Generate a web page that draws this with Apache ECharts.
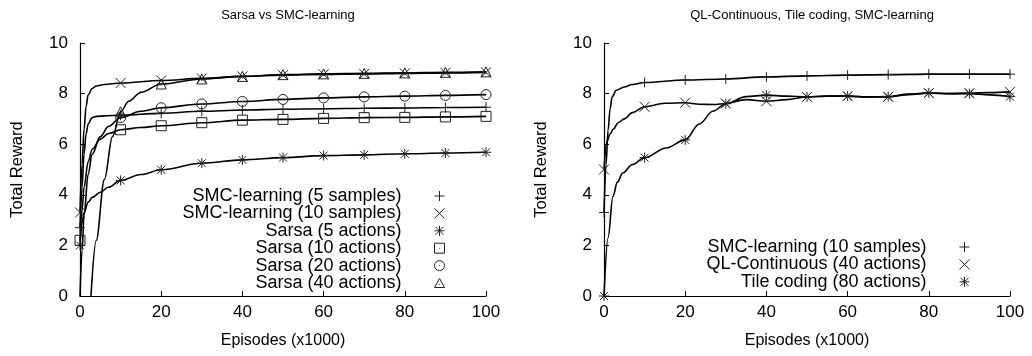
<!DOCTYPE html>
<html><head><meta charset="utf-8">
<script src="https://cdn.jsdelivr.net/npm/echarts@6/dist/echarts.min.js"></script>
<style>html,body{margin:0;padding:0;background:#fff}#c{width:1032px;height:356px}</style>
</head><body><div id="c"></div>
<script>
// ---- data ----
const xTicks = [0, 20, 40, 60, 80, 100];
const markerX = [0, 10, 20, 30, 40, 50, 60, 70, 80, 90, 100];

// left panel: Sarsa vs SMC-learning (smooth curve points [episode, reward])
const smc5Line = [[0,2.7],[0.5,4.3],[1,5.6],[1.5,6.4],[2,6.8],[3,7.05],[4,7.1],[6,7.12],[10,7.15],[20,7.22],[30,7.3],[40,7.35],[50,7.38],[60,7.4],[70,7.42],[80,7.43],[90,7.45],[100,7.46]];
const smc10Line = [[0,3.3],[0.5,5.2],[1,6.6],[1.5,7.5],[2,7.95],[3,8.2],[4,8.3],[6,8.36],[10,8.42],[20,8.52],[30,8.6],[40,8.68],[50,8.73],[60,8.76],[70,8.78],[80,8.8],[90,8.82],[100,8.84]];
const sarsa5Line = [[0,2.0],[0.5,2.9],[1,3.3],[2,3.7],[3,3.9],[5,4.1],[7,4.3],[10,4.57],[15,4.8],[20,4.99],[30,5.25],[40,5.38],[50,5.47],[60,5.55],[70,5.58],[80,5.62],[90,5.65],[100,5.68]];
const sarsa10Line = [[0,2.2],[0.5,3.4],[1,4.3],[2,5.3],[3,5.8],[5,6.2],[7,6.42],[10,6.57],[15,6.66],[20,6.73],[30,6.85],[40,6.95],[50,6.98],[60,7.02],[70,7.05],[80,7.06],[90,7.08],[100,7.1]];
const sarsa20Line = [[0,0],[0.5,1.8],[1,3.2],[2,4.8],[3,5.6],[5,6.3],[7,6.7],[10,7.05],[15,7.3],[20,7.44],[30,7.59],[40,7.69],[50,7.77],[60,7.83],[70,7.87],[80,7.9],[90,7.93],[100,7.96]];
const sarsa40Line = [[2.7,0],[4,2.2],[6,4.6],[8,6.3],[10,7.28],[12,7.7],[15,8.05],[20,8.38],[30,8.58],[40,8.68],[50,8.75],[60,8.78],[70,8.8],[80,8.82],[90,8.84],[100,8.86]];

// left panel markers (at markerX)
const smc5Pts = [2.7,7.15,7.22,7.31,7.35,7.38,7.4,7.42,7.43,7.45,7.46];
const smc10Pts = [3.3,8.42,8.52,8.6,8.68,8.73,8.76,8.78,8.8,8.82,8.84];
const sarsa5Pts = [2.0,4.57,4.99,5.25,5.38,5.47,5.55,5.58,5.62,5.65,5.68];
const sarsa10Pts = [2.2,6.57,6.73,6.85,6.95,6.98,7.02,7.05,7.06,7.08,7.1];
const sarsa20Pts = [null,7.05,7.44,7.59,7.69,7.77,7.83,7.87,7.9,7.93,7.96];
const sarsa40Pts = [null,7.28,8.38,8.58,8.68,8.75,8.78,8.8,8.82,8.84,8.86];

// right panel: QL-Continuous, Tile coding, SMC-learning
const smcRLine = [[0,3.3],[0.5,5.2],[1,6.55],[1.5,7.4],[2,7.87],[3,8.13],[5,8.26],[7,8.36],[10,8.44],[20,8.54],[30,8.58],[40,8.66],[50,8.7],[60,8.73],[70,8.75],[80,8.77],[90,8.77],[100,8.77]];
const qlLine = [[0,5.0],[0.7,6.1],[1.5,6.4],[2.3,6.6],[3.5,6.85],[5,7.0],[7,7.25],[10,7.48],[15,7.62],[20,7.64],[23.5,7.58],[27,7.57],[30,7.61],[35,7.76],[40,7.7],[45,7.76],[50,7.87],[55,7.9],[60,7.9],[65,7.86],[70,7.87],[75,7.96],[80,8.02],[85,8.0],[90,8.02],[95,8.04],[100,8.07]];
const tileLine = [[0,0],[1,2.3],[2.2,3.94],[3.3,4.5],[4.6,4.86],[7,5.2],[10,5.47],[15.3,5.85],[20,6.17],[23.5,6.8],[26.8,7.3],[30,7.6],[35,7.88],[40,7.94],[45,7.9],[50,7.87],[55,7.9],[60,7.9],[65,7.87],[70,7.88],[75,7.98],[80,8.03],[85,8.0],[90,8.0],[95,7.95],[100,7.88]];

const smcRPts = [3.3,8.44,8.54,8.58,8.66,8.7,8.73,8.75,8.77,8.77,8.77];
const qlPts = [5.0,7.48,7.64,7.61,7.7,7.87,7.9,7.87,8.02,8.02,8.07];
const tilePts = [0,5.47,6.17,7.6,7.94,7.87,7.9,7.88,8.03,8.0,7.88];

const leftNames = ['SMC-learning (5 samples)','SMC-learning (10 samples)','Sarsa (5 actions)','Sarsa (10 actions)','Sarsa (20 actions)','Sarsa (40 actions)'];
const rightNames = ['SMC-learning (10 samples)','QL-Continuous (40 actions)','Tile coding (80 actions)'];

// ---- symbols ----
const SYM = {
  plus: 'path://M5,0L5,10M0,5L10,5',
  cross: 'path://M0,0L10,10M10,0L0,10',
  star: 'path://M5,0L5,10M0,5L10,5M1,1L9,9M9,1L1,9',
  square: 'path://M0,0L10,0L10,10L0,10ZM5,4.6L5,5.4',
  circle: 'path://M0,5A5,5,0,1,1,10,5A5,5,0,1,1,0,5ZM5,4.6L5,5.4',
  triangle: 'path://M5,0L10,9L0,9ZM5,5.6L5,6.4'
};
const leftSyms = ['plus','cross','star','square','circle','triangle'];
const rightSyms = ['plus','cross','star'];

function pts(arr){ return markerX.map((x,i)=> arr[i]==null ? null : [x, arr[i]]).filter(p=>p); }

const FONT = 'Liberation Sans';
const series = [];
function addPanel(idx, lines, points, names, syms){
  lines.forEach((ln,i)=>{
    series.push({type:'line', name:'_l'+idx+'_'+i, xAxisIndex:idx, yAxisIndex:idx, data:ln,
      smooth:0.35, smoothMonotone:'x', showSymbol:false, symbol:'none', clip:true,
      lineStyle:{color:'#000', width:1.6}, silent:true, z:2});
  });
  points.forEach((p,i)=>{
    series.push({type:'scatter', name:names[i], xAxisIndex:idx, yAxisIndex:idx, data:pts(p),
      symbol:SYM[syms[i]], symbolSize:[10,10], clip:true,
      itemStyle:{color:'none', borderColor:'#222', borderWidth:1, opacity:1}, z:3});
  });
}
addPanel(0, [smc5Line,smc10Line,sarsa5Line,sarsa10Line,sarsa20Line,sarsa40Line],
  [smc5Pts,smc10Pts,sarsa5Pts,sarsa10Pts,sarsa20Pts,sarsa40Pts], leftNames, leftSyms);
addPanel(1, [smcRLine,qlLine,tileLine], [smcRPts,qlPts,tilePts], rightNames, rightSyms);

function xAxis(i){ return {type:'value', gridIndex:i, min:0, max:100, interval:20,
  name:'Episodes (x1000)', nameLocation:'middle', nameGap:37,
  nameTextStyle:{color:'#000', fontFamily:FONT, fontSize:16},
  axisLine:{lineStyle:{color:'#000', width:1.2}}, axisTick:{inside:true, length:5, lineStyle:{color:'#000'}},
  axisLabel:{color:'#000', fontFamily:FONT, fontSize:17, margin:8}, splitLine:{show:false}}; }
function yAxis(i){ return {type:'value', gridIndex:i, min:0, max:10, interval:2,
  name:'Total Reward', nameLocation:'middle', nameGap:54,
  nameTextStyle:{color:'#000', fontFamily:FONT, fontSize:16.5},
  axisLine:{show:true, lineStyle:{color:'#000', width:1.2}}, axisTick:{show:true, inside:true, length:5, lineStyle:{color:'#000'}},
  axisLabel:{color:'#000', fontFamily:FONT, fontSize:17, margin:12}, splitLine:{show:false}}; }

function legend(i, names, syms, right, top){
  return {orient:'vertical', align:'right', right:right, top:top, itemGap:-0.6, itemWidth:10, itemHeight:10,
    padding:0, selectedMode:false,
    data: names.map((n,k)=>({name:n, icon:SYM[syms[k]]})),
    itemStyle:{color:'none', borderColor:'#222', borderWidth:1},
    textStyle:{color:'#000', fontFamily:FONT, fontSize:18, padding:[0,28,0,0]}};
}

const chart = echarts.init(document.getElementById('c'), null, {renderer:'canvas'});
chart.setOption({
  animation:false,
  backgroundColor:'#fff',
  title:[
    {text:'Sarsa vs SMC-learning', left:283, top:4, textAlign:'center', textStyle:{color:'#000', fontFamily:FONT, fontSize:13, fontWeight:'normal'}},
    {text:'QL-Continuous, Tile coding, SMC-learning', left:807, top:4, textAlign:'center', textStyle:{color:'#000', fontFamily:FONT, fontSize:13, fontWeight:'normal'}}
  ],
  grid:[
    {left:80, top:43, width:406, height:253},
    {left:604, top:43, width:406, height:253}
  ],
  xAxis:[xAxis(0), xAxis(1)],
  yAxis:[yAxis(0), yAxis(1)],
  legend:[legend(0, leftNames, leftSyms, 585, 187), legend(1, rightNames, rightSyms, 60, 238)],
  series:series
});
</script></body></html>
